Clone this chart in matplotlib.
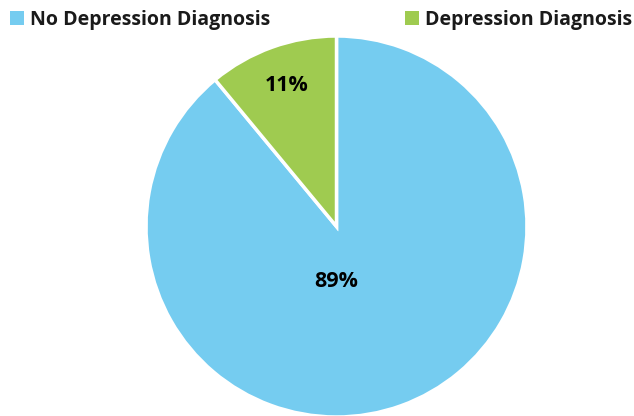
import matplotlib.pyplot as plt
from matplotlib.patches import Patch

labels = ["No Depression Diagnosis", "Depression Diagnosis"]
values = [89, 11]
colors = ["#75CCF0", "#9FCB50"]
pct_text = ["89%", "11%"]
# label positions inside the pie (pie radius = 1)
label_pos = [(0.0, -0.29), (-0.26, 0.74)]

plt.rcParams['font.family'] = ['Open Sans', 'DejaVu Sans']

fig = plt.figure(figsize=(6.34, 4.16), dpi=100)
ax = fig.add_axes([146 / 634, -1 / 416, 381 / 634, 381 / 416])

wedges, _ = ax.pie(values, colors=colors, startangle=90, counterclock=False,
                   radius=1.0, wedgeprops=dict(edgecolor="white", linewidth=2.5))
ax.set_xlim(-1, 1)
ax.set_ylim(-1, 1)
ax.set_aspect("equal")

for txt, (x, y) in zip(pct_text, label_pos):
    ax.text(x, y, txt, ha="center", va="center", fontsize=15.5, fontweight="bold",
            color="black")

handles = [Patch(facecolor=c, edgecolor="none") for c in colors]
fig.legend(handles, labels, loc="upper left", bbox_to_anchor=(0.0, 1.0), ncol=2,
           frameon=False, prop=dict(size=14, weight="bold"),
           handlelength=0.75, handleheight=0.75, handletextpad=0.3,
           columnspacing=6.9, borderaxespad=0.1)
for t in fig.legends[0].get_texts():
    t.set_color("#1a1a1a")

fig.savefig("out.png", dpi=100)
